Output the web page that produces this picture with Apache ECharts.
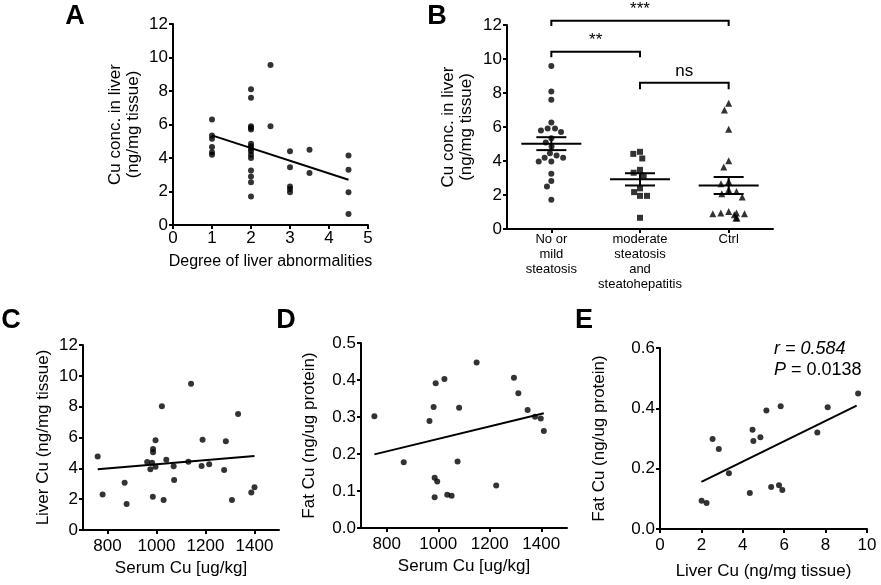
<!DOCTYPE html>
<html><head><meta charset="utf-8">
<script src="https://cdn.jsdelivr.net/npm/echarts@6/dist/echarts.min.js"></script>
<style>html,body{margin:0;padding:0;background:#fff}#c{width:881px;height:585px}</style>
</head><body><div id="c"></div>
<script>
// ---------- Panel A ----------
const aDegree = [1,1,1,1,1,1, 2,2,2,2,2,2,2,2,2,2,2,2,2,2,2, 2.5,2.5, 3,3,3,3,3, 3.5,3.5, 4.5,4.5,4.5,4.5];
const aLiverCu = [6.3,5.35,5.15,4.65,4.35,4.2, 8.1,7.6,5.9,5.8,5.7,4.85,4.7,4.55,4.4,4.2,4.0,3.25,2.9,2.55,1.7, 9.55,5.9, 4.4,3.45,2.3,2.15,1.95, 4.5,3.1, 4.15,3.3,1.95,0.65];
const aFitX = [1, 4.5];
const aFitY = [5.35, 2.7];

// ---------- Panel B ----------
const bCategories = ['No or\nmild\nsteatosis', 'moderate\nsteatosis\nand\nsteatohepatitis', 'Ctrl'];
const bMild = [9.59,8.09,7.6,6.26,5.91,5.91,5.79,5.7,5.34,5.09,4.86,4.46,4.33,4.19,4.19,3.97,3.97,3.25,2.82,2.5,1.72];
const bModerate = [4.54,4.42,4.15,3.48,3.31,3.13,2.39,2.17,1.95,1.95,0.66];
const bCtrl = [7.4,7.0,5.87,4.01,3.64,2.8,2.66,2.31,2.21,2.07,1.88,1.03,0.94,0.94,0.9,0.9,0.84,0.64,0.64];
const bMean = [5.02, 2.92, 2.56];
const bSem = [0.38, 0.36, 0.5];
const bBracketStart = [0, 0, 1];
const bBracketEnd = [2, 1, 2];
const bBracketDrop = [11.94, 10.1, 8.22];
const bBracketTop = [12.25, 10.43, 8.61];
const bSigLabels = ['***', '**', 'ns'];

// ---------- Panel C ----------
const cSerumCu = [760,780,870,878,962,982,975,986,986,996,996,985,1022,1029,1040,1070,1072,1141,1130,1188,1184,1215,1283,1276,1308,1333,1387,1400];
const cLiverCu = [4.76,2.31,3.07,1.69,4.41,4.37,3.94,5.25,5.04,5.82,4.11,2.16,8.02,1.95,4.56,4.13,3.24,9.49,4.43,5.86,4.15,4.26,5.75,3.89,1.95,7.52,2.44,2.77];
const cFitX = [760, 1400];
const cFitY = [3.94, 4.8];

// ---------- Panel D ----------
const dSerumCu = [752,866,966,982,990,986,996,986,1024,1035,1052,1081,1075,1149,1225,1294,1311,1347,1376,1398,1410];
const dFatCu = [0.302,0.178,0.289,0.327,0.391,0.136,0.126,0.083,0.403,0.090,0.087,0.325,0.180,0.447,0.115,0.406,0.364,0.319,0.301,0.296,0.262];
const dFitX = [752, 1410];
const dFitY = [0.199, 0.31];

// ---------- Panel E ----------
const eLiverCu = [2.01,2.25,2.54,2.84,3.33,4.34,4.47,4.51,4.85,5.14,5.37,5.75,5.83,5.91,7.6,8.1,9.57];
const eFatCu = [0.094,0.086,0.298,0.265,0.185,0.119,0.329,0.292,0.304,0.393,0.139,0.145,0.407,0.129,0.320,0.404,0.449];
const eFitX = [2.0, 9.5];
const eFitY = [0.156, 0.409];
const serumTicks = [800, 1000, 1200, 1400];

const FONT = '"Liberation Sans", Arial, sans-serif';
const BLACK = '#000';
const zip = (xs, ys) => xs.map((x, i) => [x, ys[i]]);

function axisBase(extra) {
  return Object.assign({
    axisLine: { show: true, onZero: false, lineStyle: { color: BLACK, width: 2 } },
    axisTick: { show: true, length: 4, lineStyle: { color: BLACK, width: 2 } },
    axisLabel: { color: BLACK, fontSize: 17, fontFamily: FONT, margin: 5 },
    splitLine: { show: false },
    nameLocation: 'middle',
    nameTextStyle: { color: BLACK, fontSize: 17, fontFamily: FONT, lineHeight: 18 }
  }, extra);
}

function scatter(xi, yi, data, symbol, size) {
  return { type: 'scatter', xAxisIndex: xi, yAxisIndex: yi, data: data, symbol: symbol || 'circle',
    symbolSize: size || 6, itemStyle: { color: BLACK }, silent: true };
}
function fitLine(xi, yi, xs, ys) {
  return { type: 'line', xAxisIndex: xi, yAxisIndex: yi, data: zip(xs, ys), symbol: 'none',
    lineStyle: { color: BLACK, width: 2 }, silent: true };
}

const chart = echarts.init(document.getElementById('c'), null, { renderer: 'canvas' });

const option = {
  backgroundColor: '#fff',
  animation: false,
  grid: [
    { left: 173, top: 24, width: 195, height: 201 },
    { left: 507, top: 25, width: 266, height: 204 },
    { left: 83, top: 345, width: 196, height: 185 },
    { left: 361, top: 343, width: 206, height: 185 },
    { left: 660, top: 348, width: 207, height: 181 }
  ],
  xAxis: [
    axisBase({ gridIndex: 0, type: 'value', min: 0, max: 5, interval: 1,
      name: 'Degree of liver abnormalities', nameGap: 29,
      nameTextStyle: { color: BLACK, fontSize: 16, fontFamily: FONT } }),
    axisBase({ gridIndex: 1, type: 'category', data: bCategories,
      jitter: 44, jitterOverlap: false, jitterMargin: 1,
      axisTick: { show: true, alignWithLabel: true, length: 4, lineStyle: { color: BLACK, width: 2 } },
      axisLabel: { color: BLACK, fontSize: 13, fontFamily: FONT, margin: 3, lineHeight: 15, interval: 0 } }),
    axisBase({ gridIndex: 2, type: 'value', min: 700, max: 1500,
      axisTick: { show: true, length: 4, lineStyle: { color: BLACK, width: 2 }, customValues: serumTicks },
      axisLabel: { color: BLACK, fontSize: 17, fontFamily: FONT, margin: 8, customValues: serumTicks, formatter: v => String(v) },
      name: 'Serum Cu [ug/kg]', nameGap: 29 }),
    axisBase({ gridIndex: 3, type: 'value', min: 700, max: 1500,
      axisTick: { show: true, length: 4, lineStyle: { color: BLACK, width: 2 }, customValues: serumTicks },
      axisLabel: { color: BLACK, fontSize: 17, fontFamily: FONT, margin: 8, customValues: serumTicks, formatter: v => String(v) },
      name: 'Serum Cu [ug/kg]', nameGap: 29 }),
    axisBase({ gridIndex: 4, type: 'value', min: 0, max: 10, interval: 2,
      axisLabel: { color: BLACK, fontSize: 17, fontFamily: FONT, margin: 8 },
      name: 'Liver Cu (ng/mg tissue)', nameGap: 33 })
  ],
  yAxis: [
    axisBase({ gridIndex: 0, type: 'value', min: 0, max: 12, interval: 2,
      name: 'Cu conc. in liver\n(ng/mg tissue)', nameGap: 31 }),
    axisBase({ gridIndex: 1, type: 'value', min: 0, max: 12, interval: 2,
      name: 'Cu conc. in liver\n(ng/mg tissue)', nameGap: 32 }),
    axisBase({ gridIndex: 2, type: 'value', min: 0, max: 12, interval: 2,
      name: 'Liver Cu (ng/mg tissue)', nameGap: 31 }),
    axisBase({ gridIndex: 3, type: 'value', min: 0, max: 0.5, interval: 0.1,
      axisLabel: { color: BLACK, fontSize: 17, fontFamily: FONT, margin: 5, formatter: v => v.toFixed(1) },
      name: 'Fat Cu (ng/ug protein)', nameGap: 43 }),
    axisBase({ gridIndex: 4, type: 'value', min: 0, max: 0.6, interval: 0.2,
      axisLabel: { color: BLACK, fontSize: 17, fontFamily: FONT, margin: 5, formatter: v => v.toFixed(1) },
      name: 'Fat Cu (ng/ug protein)', nameGap: 52 })
  ],
  series: [
    // A
    scatter(0, 0, zip(aDegree, aLiverCu)),
    fitLine(0, 0, aFitX, aFitY),
    // B
    scatter(1, 1, bMild.map(v => [0, v]), 'circle', 6),
    scatter(1, 1, bModerate.map(v => [1, v]), 'rect', 6),
    scatter(1, 1, bCtrl.map(v => [2, v]), 'triangle', 7),
    {
      type: 'custom', xAxisIndex: 1, yAxisIndex: 1, silent: true,
      data: bMean.map((m, i) => [i, m, bSem[i]]),
      encode: { x: 0, y: 1 },
      renderItem: function (params, api) {
        const x = api.value(0), m = api.value(1), s = api.value(2);
        const c = api.coord([x, m]), hi = api.coord([x, m + s]), lo = api.coord([x, m - s]);
        const st = { stroke: BLACK, lineWidth: 2 };
        return { type: 'group', children: [
          { type: 'line', shape: { x1: c[0] - 30, y1: c[1], x2: c[0] + 30, y2: c[1] }, style: st },
          { type: 'line', shape: { x1: c[0], y1: hi[1], x2: c[0], y2: lo[1] }, style: st },
          { type: 'line', shape: { x1: c[0] - 15, y1: hi[1], x2: c[0] + 15, y2: hi[1] }, style: st },
          { type: 'line', shape: { x1: c[0] - 15, y1: lo[1], x2: c[0] + 15, y2: lo[1] }, style: st }
        ] };
      }
    },
    {
      type: 'custom', xAxisIndex: 1, yAxisIndex: 1, silent: true,
      data: bSigLabels.map((t, i) => [bBracketStart[i], bBracketEnd[i], bBracketDrop[i], bBracketTop[i]]),
      encode: { x: [0, 1], y: [2, 3] },
      renderItem: function (params, api) {
        const s = api.value(0), e = api.value(1), d = api.value(2), t = api.value(3);
        const p1 = api.coord([s, d]), p2 = api.coord([s, t]), p3 = api.coord([e, t]), p4 = api.coord([e, d]);
        return { type: 'group', children: [
          { type: 'polyline', shape: { points: [p1, p2, p3, p4] }, style: { stroke: BLACK, lineWidth: 2, fill: null } },
          { type: 'text', x: (p2[0] + p3[0]) / 2, y: p2[1] - 3,
            style: { text: bSigLabels[params.dataIndex], fill: BLACK, font: '17px ' + FONT, textAlign: 'center', textVerticalAlign: 'bottom' } }
        ] };
      }
    },
    // C
    scatter(2, 2, zip(cSerumCu, cLiverCu)),
    fitLine(2, 2, cFitX, cFitY),
    // D
    scatter(3, 3, zip(dSerumCu, dFatCu)),
    fitLine(3, 3, dFitX, dFitY),
    // E
    scatter(4, 4, zip(eLiverCu, eFatCu)),
    fitLine(4, 4, eFitX, eFitY)
  ],
  graphic: [
    { type: 'text', x: 75, y: 17, style: { text: 'A', font: 'bold 27px ' + FONT, fill: BLACK, textAlign: 'center', textVerticalAlign: 'middle' } },
    { type: 'text', x: 437, y: 17, style: { text: 'B', font: 'bold 27px ' + FONT, fill: BLACK, textAlign: 'center', textVerticalAlign: 'middle' } },
    { type: 'text', x: 11, y: 321, style: { text: 'C', font: 'bold 27px ' + FONT, fill: BLACK, textAlign: 'center', textVerticalAlign: 'middle' } },
    { type: 'text', x: 286, y: 321, style: { text: 'D', font: 'bold 27px ' + FONT, fill: BLACK, textAlign: 'center', textVerticalAlign: 'middle' } },
    { type: 'text', x: 584, y: 321, style: { text: 'E', font: 'bold 27px ' + FONT, fill: BLACK, textAlign: 'center', textVerticalAlign: 'middle' } },
    { type: 'text', x: 774, y: 349, style: { text: 'r = 0.584', font: 'italic 18px ' + FONT, fill: BLACK, textAlign: 'left', textVerticalAlign: 'middle' } },
    { type: 'text', x: 774, y: 370, style: { text: '{i|P} = 0.0138', font: '18px ' + FONT, fill: BLACK, textAlign: 'left', textVerticalAlign: 'middle',
        rich: { i: { fontStyle: 'italic', fontSize: 18, fontFamily: FONT, fill: BLACK } } } }
  ]
};
chart.setOption(option);
</script>
</body></html>
